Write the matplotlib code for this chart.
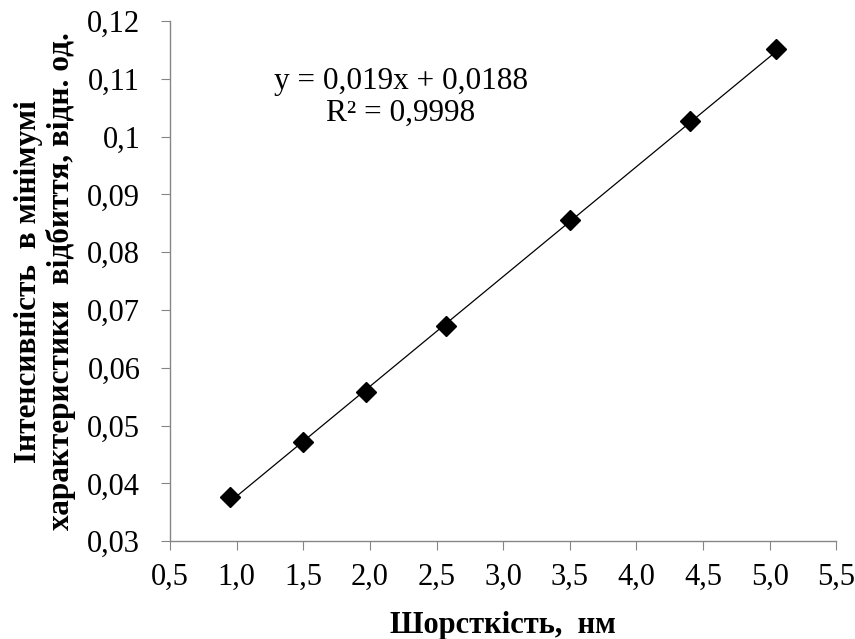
import matplotlib.pyplot as plt
import numpy as np
from matplotlib.ticker import FuncFormatter

# дані з графіка
roughness = [0.95, 1.50, 1.97, 2.57, 3.50, 4.40, 5.05]
intensity = [0.0376, 0.0472, 0.0559, 0.0673, 0.0856, 0.1027, 0.1151]
slope = 0.019
intercept = 0.0188
x_ticks = [0.5, 1.0, 1.5, 2.0, 2.5, 3.0, 3.5, 4.0, 4.5, 5.0, 5.5]
y_ticks = [0.03, 0.04, 0.05, 0.06, 0.07, 0.08, 0.09, 0.10, 0.11, 0.12]

plt.rcParams['font.family'] = ['Liberation Serif', 'DejaVu Serif']

fig = plt.figure(figsize=(8.55, 6.39), dpi=100)
ax = fig.add_axes([0.199, 0.153, 0.779, 0.814])

# лінія тренду
xs = np.array([roughness[0], roughness[-1]])
ax.plot(xs, slope * xs + intercept, color='black', lw=0.9)
ax.plot(roughness, intensity, 'D', color='black', markersize=10, linestyle='none')

ax.set_xlim(0.5, 5.5)
ax.set_ylim(0.03, 0.12)
ax.set_xticks(x_ticks)
ax.set_yticks(y_ticks)
ax.xaxis.set_major_formatter(FuncFormatter(lambda v, p: f"{v:.1f}".replace('.', ',')))
ax.yaxis.set_major_formatter(FuncFormatter(lambda v, p: f"{v:.2f}".rstrip('0').replace('.', ',')))

for s in ['top', 'right']:
    ax.spines[s].set_visible(False)
for s in ['left', 'bottom']:
    ax.spines[s].set_color('#868686')
    ax.spines[s].set_linewidth(1.0)
ax.tick_params(axis='both', direction='out', length=6.5, color='#868686', labelsize=22)
ax.tick_params(axis='x', pad=9)
ax.tick_params(axis='y', pad=15)

ax.set_xlabel('Шорсткість,  нм', fontsize=22, fontweight='bold', labelpad=14)
ax.set_ylabel('Інтенсивність  в мінімумі\nхарактеристики  відбиття, відн. од.',
              fontsize=22.5, fontweight='bold', labelpad=8, linespacing=1.15)

ax.text(2.23, 0.1068, 'y = 0,019x + 0,0188\nR² = 0,9998', ha='center', va='center',
        fontsize=22.5, linespacing=1.15)

fig.savefig('out.png', dpi=100)
